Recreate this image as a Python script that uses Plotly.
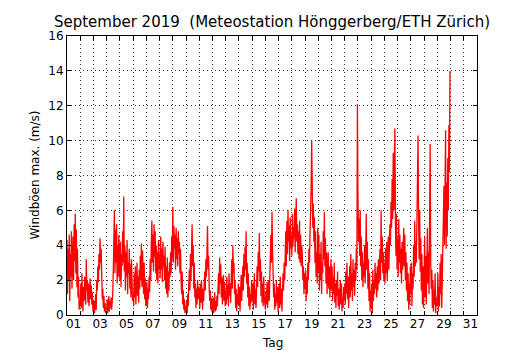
import plotly.graph_objects as go

# Hourly maximum wind gusts (m/s), one list per day, hours 00..23
d01 = [4.3, 1.2, 3.8, 2.0, 4.6, 0.8, 3.5, 2.2, 4.8, 1.5, 3.0, 4.5, 2.0, 5.2, 3.1, 5.8, 2.4, 4.9, 1.6, 3.8, 1.0, 2.2, 0.3, 0.8]
d02 = [0.5, 1.8, 0.4, 2.4, 1.0, 0.2, 1.6, 0.8, 2.2, 1.2, 0.6, 3.2, 1.4, 2.0, 0.7, 1.8, 0.5, 1.5, 2.1, 0.9, 1.7, 0.6, 1.3, 0.3]
d03 = [0.2, 0.8, 0.1, 0.5, 1.2, 0.3, 2.0, 1.4, 2.8, 1.9, 3.5, 2.6, 4.4, 3.0, 3.8, 1.8, 0.9, 1.5, 0.4, 1.1, 0.2, 0.7, 0.1, 0.4]
d04 = [0.3, 0.9, 0.1, 0.6, 1.1, 0.2, 0.8, 0.4, 1.0, 0.3, 0.7, 1.2, 2.5, 3.8, 6.0, 2.4, 4.9, 3.0, 5.2, 1.8, 4.0, 2.2, 4.6, 3.1]
d05 = [2.0, 4.2, 1.6, 3.5, 2.8, 4.8, 3.0, 6.8, 2.5, 4.0, 1.4, 3.6, 2.2, 4.3, 1.2, 3.0, 2.4, 3.8, 1.5, 2.9, 1.0, 3.2, 1.8, 0.8]
d06 = [1.2, 0.5, 2.4, 1.0, 2.8, 0.6, 1.8, 3.0, 1.1, 2.2, 0.7, 2.6, 1.5, 3.4, 2.0, 4.1, 1.6, 3.7, 2.5, 1.2, 3.0, 0.9, 2.1, 0.5]
d07 = [0.8, 1.9, 0.4, 1.5, 0.9, 2.2, 1.3, 3.2, 2.0, 4.1, 5.4, 3.0, 4.6, 2.5, 5.2, 3.3, 4.8, 2.4, 4.0, 2.0, 3.6, 1.8, 4.3, 2.6]
d08 = [3.5, 2.1, 4.5, 2.6, 3.8, 1.9, 4.2, 2.8, 3.4, 2.0, 3.9, 1.5, 2.8, 1.2, 3.3, 1.0, 2.5, 1.4, 3.0, 2.2, 3.6, 2.4, 4.5, 3.2]
d09 = [6.2, 3.0, 5.1, 3.8, 4.6, 2.6, 5.0, 3.2, 4.4, 2.8, 4.8, 3.5, 4.2, 2.4, 3.8, 2.0, 1.2, 2.5, 0.6, 1.4, 0.3, 0.9, 0.1, 0.5]
d10 = [0.2, 0.8, 0.1, 1.2, 0.5, 1.8, 2.6, 1.4, 3.5, 2.0, 4.2, 5.2, 2.8, 4.0, 1.5, 3.0, 1.0, 1.8, 0.4, 1.5, 0.6, 2.0, 0.9, 1.6]
d11 = [1.2, 0.4, 1.8, 0.7, 2.0, 1.0, 0.3, 1.5, 0.8, 1.9, 2.5, 1.4, 3.2, 2.2, 4.0, 5.1, 2.6, 3.4, 1.5, 0.8, 1.4, 0.3, 1.0, 0.2]
d12 = [0.4, 1.0, 0.1, 0.6, 1.3, 0.2, 0.8, 0.3, 1.1, 0.5, 1.6, 2.4, 1.2, 3.3, 1.8, 2.9, 1.0, 2.2, 0.6, 1.5, 2.3, 0.8, 1.9, 0.5]
d13 = [1.4, 0.6, 2.2, 0.9, 1.7, 0.5, 2.4, 1.1, 1.8, 0.7, 2.6, 3.2, 1.5, 4.0, 2.4, 3.0, 1.2, 2.0, 0.4, 1.5, 0.2, 1.2, 0.6, 1.8]
d14 = [0.5, 1.6, 0.2, 1.1, 2.3, 0.8, 1.9, 2.8, 1.4, 3.5, 2.2, 3.9, 2.6, 4.8, 1.8, 3.0, 1.0, 2.4, 0.5, 1.6, 0.3, 1.2, 0.7, 2.0]
d15 = [0.8, 1.8, 0.3, 1.2, 2.4, 0.6, 1.5, 0.4, 1.9, 2.8, 1.6, 3.6, 2.5, 4.7, 2.0, 3.2, 1.1, 2.5, 0.7, 1.8, 0.5, 2.2, 1.0, 0.4]
d16 = [0.3, 1.4, 0.6, 1.9, 0.4, 1.2, 2.0, 0.8, 2.5, 3.2, 4.6, 3.0, 5.9, 3.8, 2.2, 1.0, 1.8, 0.3, 1.2, 0.5, 2.0, 0.7, 1.6, 0.2]
d17 = [0.9, 1.8, 0.4, 2.2, 0.6, 1.5, 0.2, 1.0, 2.4, 1.4, 3.0, 2.0, 3.6, 4.8, 2.8, 5.4, 3.5, 6.0, 4.2, 5.1, 3.1, 5.6, 3.8, 4.6]
d18 = [3.4, 5.8, 3.9, 5.0, 4.4, 6.1, 3.6, 5.5, 6.7, 4.2, 5.2, 3.5, 4.8, 3.2, 5.4, 3.0, 4.6, 2.8, 4.0, 3.4, 2.0, 2.8, 1.2, 2.4]
d19 = [1.5, 2.6, 0.8, 2.2, 1.2, 3.0, 2.0, 3.8, 3.0, 4.6, 5.5, 7.2, 10.0, 7.8, 5.0, 6.4, 4.2, 5.6, 3.0, 4.8, 2.2, 3.6, 1.8, 5.0]
d20 = [2.5, 4.6, 1.4, 3.5, 2.0, 4.2, 1.2, 3.0, 2.4, 4.8, 3.2, 5.9, 2.8, 4.4, 1.8, 3.6, 1.2, 2.6, 3.6, 1.5, 2.8, 1.0, 2.2, 3.2]
d21 = [1.4, 2.8, 0.8, 2.2, 1.2, 3.0, 0.7, 1.8, 0.4, 2.0, 1.1, 2.5, 0.5, 1.5, 0.3, 1.2, 2.0, 0.6, 1.8, 0.2, 1.0, 0.4, 1.6, 0.8]
d22 = [1.8, 0.6, 2.5, 1.2, 3.0, 0.9, 2.2, 0.4, 1.6, 2.8, 1.0, 3.5, 1.4, 2.4, 0.8, 3.2, 1.6, 2.6, 1.1, 3.0, 2.0, 3.8, 2.6, 12.1]
d23 = [6.8, 4.2, 5.5, 3.4, 6.0, 2.8, 4.5, 2.0, 3.6, 1.6, 3.0, 2.2, 4.0, 1.8, 3.4, 5.8, 2.6, 4.2, 1.5, 3.2, 0.8, 2.4, 0.2, 1.4]
d24 = [0.4, 1.8, 0.1, 2.6, 0.8, 2.0, 1.2, 3.0, 1.5, 2.4, 1.0, 2.8, 1.4, 3.2, 1.8, 2.6, 3.8, 2.0, 6.0, 3.0, 4.5, 2.4, 3.6, 2.0]
d25 = [3.0, 1.8, 3.8, 2.4, 4.2, 2.0, 3.5, 4.5, 2.6, 4.0, 5.2, 4.0, 6.5, 5.0, 7.8, 5.5, 9.3, 6.0, 8.6, 10.7, 5.2, 3.4, 5.8, 2.6]
d26 = [4.4, 2.2, 5.5, 3.0, 4.6, 2.4, 3.8, 1.8, 4.2, 2.6, 3.4, 5.0, 2.8, 4.6, 2.0, 3.6, 1.4, 3.0, 0.8, 2.4, 0.3, 1.8, 0.6, 2.8]
d27 = [1.2, 3.0, 0.5, 2.4, 1.5, 4.0, 2.2, 5.4, 2.8, 4.2, 3.0, 6.5, 8.2, 10.3, 5.5, 3.2, 6.0, 2.5, 4.4, 1.4, 3.5, 0.6, 2.8, 0.4]
d28 = [2.0, 4.5, 1.0, 3.4, 0.6, 2.8, 5.0, 1.8, 3.6, 1.2, 4.4, 9.8, 3.0, 1.5, 2.6, 0.4, 2.0, 0.2, 1.4, 0.6, 2.4, 0.1, 1.0, 0.5]
d29 = [0.8, 2.4, 0.2, 1.6, 0.5, 3.0, 1.2, 3.5, 0.4, 2.2, 3.6, 5.2, 7.4, 4.0, 6.5, 10.6, 3.8, 7.6, 4.5, 9.0, 6.0, 10.9, 8.2, 14.0]

day_labels = ["01", "03", "05", "07", "09", "11", "13", "15",
              "17", "19", "21", "23", "25", "27", "29", "31"]

days = [d01, d02, d03, d04, d05, d06, d07, d08, d09, d10, d11, d12, d13, d14, d15,
        d16, d17, d18, d19, d20, d21, d22, d23, d24, d25, d26, d27, d28, d29]

gusts = [v for day in days for v in day]
# time in days since 1 September 00:00
t = [i / 24 for i in range(len(gusts))]

FONT = "DejaVu Sans"
GRID = dict(showgrid=True, gridcolor="#333333", gridwidth=1, griddash="1px,3px")

fig = go.Figure()
fig.add_trace(go.Scatter(x=t, y=gusts, mode="lines",
                         line=dict(color="#ff0000", width=1.3),
                         hoverinfo="skip", showlegend=False))
# carrier trace for the label axis
fig.add_trace(go.Scatter(x=[0], y=[0], xaxis="x2", mode="none",
                         hoverinfo="skip", showlegend=False))

label_pos = [2 * i + 0.5 for i in range(len(day_labels))]

fig.update_layout(
    width=530, height=350,
    margin=dict(l=67, r=53, t=36, b=35),
    paper_bgcolor="white", plot_bgcolor="white",
    font=dict(family=FONT, size=12, color="black"),
    title=dict(text="September 2019  (Meteostation Hönggerberg/ETH Zürich)",
               font=dict(family=FONT, size=15, color="black"),
               x=0.5, xref="paper", xanchor="center",
               y=1 - 22 / 350, yref="container", yanchor="middle"),
    xaxis=dict(range=[0, 31], tickvals=list(range(1, 31)), showticklabels=False,
               ticks="inside", ticklen=4, tickcolor="black", tickwidth=1,
               showline=True, linecolor="black", linewidth=1, mirror="ticks",
               zeroline=False, **GRID),
    xaxis2=dict(range=[0, 31], overlaying="x", side="bottom", anchor="y",
                tickvals=label_pos, ticktext=day_labels, ticks="",
                showgrid=False, zeroline=False, showline=False,
                tickfont=dict(family=FONT, size=12, color="black")),
    yaxis=dict(range=[0, 16], tickvals=list(range(0, 17, 2)),
               ticks="inside", ticklen=4, tickcolor="black", tickwidth=1,
               showline=True, linecolor="black", linewidth=1, mirror="ticks",
               zeroline=False, tickfont=dict(family=FONT, size=12, color="black"),
               **GRID),
    annotations=[
        dict(text="Tag", xref="paper", yref="paper", x=0.5, y=-(342 - 314.5) / 279,
             xanchor="center", yanchor="middle", showarrow=False,
             font=dict(family=FONT, size=12, color="black")),
        dict(text="Windböen max. (m/s)", xref="paper", yref="paper",
             x=-(67 - 34) / 410, y=0.5, xanchor="center", yanchor="middle",
             textangle=-90, showarrow=False,
             font=dict(family=FONT, size=12, color="black")),
    ],
)

fig.write_html("out.html")
